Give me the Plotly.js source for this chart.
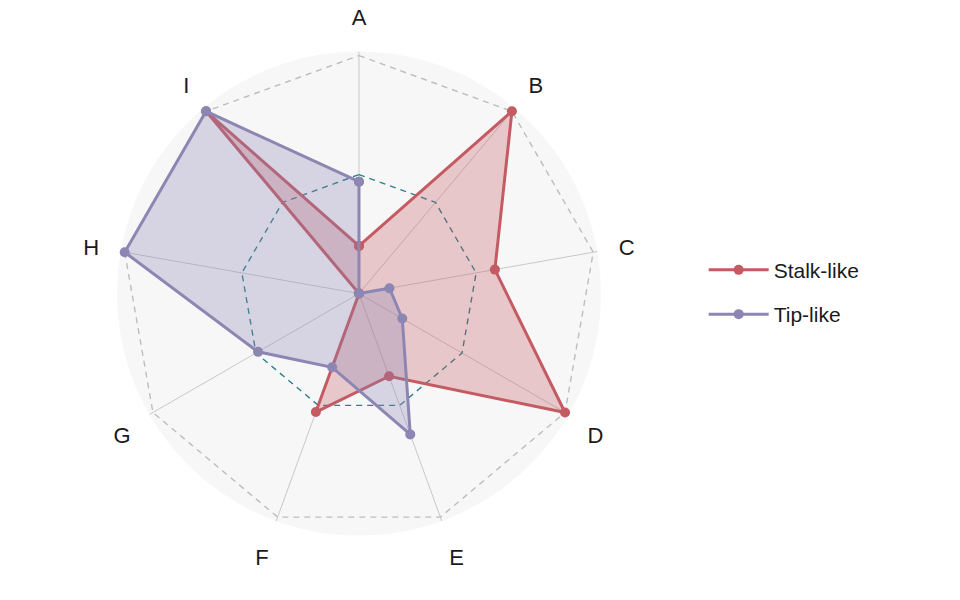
<!DOCTYPE html>
<html>
<head>
<meta charset="utf-8">
<script src="https://cdn.plot.ly/plotly-3.0.1.min.js"></script>
<style>
  html, body { margin: 0; padding: 0; background: #fff; }
  #chart { width: 960px; height: 600px; }
</style>
</head>
<body>
<div id="chart"></div>
<script>
/* ─── Data ─── */
const CATEGORIES = ['A', 'B', 'C', 'D', 'E', 'F', 'G', 'H', 'I'];
const STALK_LIKE = [0.20, 1.00, 0.58, 1.00, 0.37, 0.53, 0.00, 0.00, 1.00];
const TIP_LIKE   = [0.47, 0.00, 0.13, 0.21, 0.63, 0.33, 0.49, 1.00, 1.00];
const GRID_MID = 0.5;
const GRID_MAX = 1.0;

/* ─── Styles ─── */
const COLORS = {
  STALK: '#c45a62',
  STALK_FILL: 'rgba(196,90,98,0.30)',
  TIP: '#8c86b3',
  TIP_FILL: 'rgba(140,134,179,0.30)',
  RING_MAX: '#bdbdbd',
  RING_MID: '#2b7f8c',
  SPOKE: '#c8c8c8',
  BG: '#f7f7f7',
  TEXT: '#1a1a1a',
};
const FONT = '"Liberation Sans", Arial, sans-serif';

const closed = arr => arr.concat(arr.slice(0, 1));
const theta = closed(CATEGORIES);

function ring(value, color) {
  return {
    type: 'scatterpolar',
    r: closed(CATEGORIES.map(() => value)),
    theta: theta,
    mode: 'lines',
    line: { color: color, width: 1.4, dash: '6px,5px' },
    hoverinfo: 'skip',
    showlegend: false,
  };
}

function series(name, values, color, fill) {
  return [
    {
      type: 'scatterpolar',
      r: closed(values),
      theta: theta,
      mode: 'none',
      fill: 'toself',
      fillcolor: fill,
      hoverinfo: 'skip',
      showlegend: false,
      legendgroup: name,
    },
    {
      type: 'scatterpolar',
      name: name,
      r: closed(values),
      theta: theta,
      mode: 'lines+markers',
      line: { color: color, width: 3 },
      marker: { color: color, size: 10 },
      legendgroup: name,
    },
  ];
}

const traces = [
  ring(GRID_MAX, COLORS.RING_MAX),
  ring(GRID_MID, COLORS.RING_MID),
  ...series('Stalk-like', STALK_LIKE, COLORS.STALK, COLORS.STALK_FILL),
  ...series('Tip-like', TIP_LIKE, COLORS.TIP, COLORS.TIP_FILL),
];

const layout = {
  width: 960,
  height: 600,
  paper_bgcolor: '#fff',
  margin: { l: 0, r: 0, t: 0, b: 0 },
  font: { family: FONT, color: COLORS.TEXT, size: 22 },
  polar: {
    domain: { x: [0.1219, 0.626], y: [0.1075, 0.914] },
    bgcolor: COLORS.BG,
    gridshape: 'circular',
    radialaxis: { visible: false, range: [0, 1.017] },
    angularaxis: {
      type: 'category',
      categoryarray: CATEGORIES,
      direction: 'clockwise',
      rotation: 90,
      showline: false,
      showgrid: true,
      gridcolor: COLORS.SPOKE,
      gridwidth: 1,
      ticks: 'outside',
      ticklen: 17,
      tickcolor: 'rgba(0,0,0,0)',
      tickfont: { size: 22, color: COLORS.TEXT },
    },
  },
  showlegend: true,
  legend: {
    x: 0.733, y: 0.513, xanchor: 'left', yanchor: 'middle',
    font: { size: 21, color: COLORS.TEXT },
    itemwidth: 60,
    tracegroupgap: 14,
    bgcolor: 'rgba(0,0,0,0)',
  },
};

Plotly.newPlot('chart', traces, layout, { displayModeBar: false, responsive: false });
</script>
</body>
</html>
